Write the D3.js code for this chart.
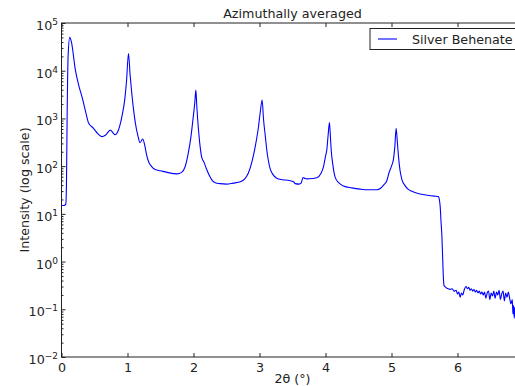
<!DOCTYPE html>
<html>
<head>
<meta charset="utf-8">
<script src="https://cdn.jsdelivr.net/npm/d3@7"></script>
<style>
  body { margin: 0; background: #fff; overflow: hidden; }
  svg { display: block; font-family: "DejaVu Sans", sans-serif; }
</style>
</head>
<body>
<svg id="chart" width="515" height="386"></svg>
<script>
// data
var twoTheta = [0.00, 0.04, 0.065, 0.075, 0.085, 0.10, 0.125, 0.15, 0.21, 0.26, 0.31, 0.36, 0.41, 0.485, 0.55, 0.61,
  0.67, 0.74, 0.78, 0.81, 0.86, 0.915, 0.96, 0.985, 1.015, 1.04, 1.06, 1.09, 1.12, 1.16, 1.19, 1.23, 1.26, 1.29,
  1.32, 1.36, 1.42, 1.50, 1.60, 1.75, 1.82, 1.87, 1.92, 1.96, 1.99, 2.02, 2.036, 2.05, 2.076, 2.10, 2.126, 2.16,
  2.20, 2.25, 2.28, 2.33, 2.40, 2.50, 2.60, 2.71, 2.78, 2.83, 2.89, 2.935, 2.98, 3.01, 3.04, 3.06, 3.09, 3.11,
  3.16, 3.20, 3.26, 3.35, 3.45, 3.515, 3.54, 3.60, 3.63, 3.66, 3.69, 3.72, 3.80, 3.87, 3.93, 3.97, 4.00, 4.02,
  4.04, 4.06, 4.075, 4.086, 4.11, 4.147, 4.20, 4.27, 4.40, 4.526, 4.65, 4.78, 4.83, 4.88, 4.93, 4.96, 5.00, 5.03,
  5.05, 5.07, 5.09, 5.106, 5.13, 5.16, 5.20, 5.25, 5.30, 5.435, 5.55, 5.65, 5.71, 5.725, 5.738, 5.75, 5.764,
  5.775, 5.785, 5.795, 5.82, 5.84, 5.86, 5.89, 5.92, 5.95, 5.98, 6.00, 6.02, 6.04, 6.06, 6.08, 6.10, 6.13, 6.15,
  6.17, 6.19, 6.21, 6.23, 6.25, 6.27, 6.29, 6.31, 6.33, 6.35, 6.37, 6.39, 6.41, 6.43, 6.45, 6.47, 6.49, 6.51,
  6.53, 6.55, 6.57, 6.59, 6.61, 6.63, 6.65, 6.67, 6.69, 6.71, 6.73, 6.75, 6.77, 6.79, 6.81, 6.83, 6.84, 6.85,
  6.86, 6.87, 6.89, 6.92, 6.95, 7.00]

var intensity = [15, 15, 16, 40, 1000, 20000, 50000, 40000, 10400, 5000, 2860, 1500, 800, 620, 480, 416,
  450, 570, 500, 455, 560, 1090, 2600, 6000, 23000, 8000, 4000, 1600, 790, 420, 310, 370, 280, 170,
  124, 100, 85, 80, 74, 69, 74, 95, 186, 400, 900, 2200, 3950, 1800, 574, 260, 150, 120,
  85, 60, 51, 45, 43, 42, 44, 47, 55, 71, 130, 256, 600, 1300, 2440, 1000, 400, 220,
  90, 68, 56, 52, 50, 47, 43, 42, 44, 58, 55, 54, 55, 57, 70, 98, 160, 220,
  450, 817, 400, 220, 110, 58, 45, 38.5, 35, 33, 32, 32, 34, 40, 50, 71, 100, 140,
  250, 624, 300, 158, 80, 51, 40, 33, 30, 26, 24.5, 23.5, 23, 20, 14, 7, 3.3,
  1.2, 0.5, 0.32, 0.29, 0.275, 0.27, 0.26, 0.27, 0.24, 0.25, 0.21, 0.23, 0.18, 0.22, 0.20, 0.25, 0.30, 0.27,
  0.29, 0.25, 0.27, 0.24, 0.26, 0.23, 0.25, 0.22, 0.24, 0.21, 0.23, 0.20, 0.23, 0.17, 0.22, 0.24, 0.16, 0.22,
  0.19, 0.24, 0.17, 0.23, 0.20, 0.25, 0.16, 0.21, 0.24, 0.15, 0.22, 0.18, 0.23, 0.17, 0.13, 0.16, 0.08, 0.12,
  0.065, 0.11, 0.07, 0.10, 0.08, 0.09]

var xTicks = [0, 1, 2, 3, 4, 5, 6, 7]
var xLabelled = [0, 1, 2, 3, 4, 5, 6]   // 7 falls outside the window
var yExponents = [-2, -1, 0, 1, 2, 3, 4, 5]
var seriesName = "Silver Behenate"

var margin = { top: 23, left: 61.5 },
  plotW = 462,
  plotH = 334,
  ink = "#222"

var svg = d3.select("#chart")

var x = d3.scaleLinear().domain([0, 7]).range([0, plotW])
var y = d3.scaleLog().domain([1e-2, 1e5]).range([plotH, 0])

var g = svg.append("g")
  .attr("transform", "translate(" + margin.left + "," + margin.top + ")")

g.append("clipPath").attr("id", "clip")
  .append("rect").attr("width", plotW).attr("height", plotH)

// the curve
var line = d3.line()
  .x(function (d, i) { return x(twoTheta[i]) })
  .y(function (d) { return y(d) })
  .curve(d3.curveMonotoneX)

g.append("path")
  .datum(intensity)
  .attr("clip-path", "url(#clip)")
  .attr("d", line)
  .attr("fill", "none")
  .attr("stroke", "#0000ff")
  .attr("stroke-width", 1.1)
  .attr("stroke-linejoin", "round")

// minor log ticks
var minor = []
yExponents.slice(0, -1).forEach(function (e) {
  for (var k = 2; k < 10; k++) minor.push(k * Math.pow(10, e))
})

function styleAxis(sel) {
  sel.select(".domain").remove()
  sel.selectAll("line").attr("stroke", ink)
  sel.selectAll("text").attr("fill", ink)
    .style("font-family", "DejaVu Sans, sans-serif").style("font-size", "12.7px")
}

g.append("g")
  .attr("transform", "translate(0," + plotH + ")")
  .call(d3.axisBottom(x).tickValues(xLabelled).tickSize(-4).tickPadding(5.5).tickFormat(d3.format("d")))
  .call(styleAxis)
g.append("g")
  .attr("transform", "translate(0," + plotH + ")")
  .call(d3.axisBottom(x).tickValues([7]).tickSize(-4).tickFormat(""))
  .call(styleAxis)

g.append("g")
  .call(d3.axisTop(x).tickValues(xTicks).tickSize(-4).tickFormat(""))
  .call(styleAxis)

var yMajor = yExponents.map(function (e) { return Math.pow(10, e) })

g.append("g")
  .call(d3.axisLeft(y).tickValues(yMajor).tickSize(-4).tickFormat(""))
  .call(styleAxis)
g.append("g")
  .call(d3.axisLeft(y).tickValues(minor).tickSize(-2).tickFormat(""))
  .call(styleAxis)
g.append("g")
  .attr("transform", "translate(" + plotW + ",0)")
  .call(d3.axisRight(y).tickValues(yMajor).tickSize(-4).tickFormat(""))
  .call(styleAxis)
g.append("g")
  .attr("transform", "translate(" + plotW + ",0)")
  .call(d3.axisRight(y).tickValues(minor).tickSize(-2).tickFormat(""))
  .call(styleAxis)

// y labels as 10 with superscript exponent
var ylab = g.append("g").selectAll("text")
  .data(yExponents)
  .enter()
  .append("text")
  .attr("x", -3.5)
  .attr("y", function (d) { return y(Math.pow(10, d)) + 7 })
  .attr("text-anchor", "end")
  .attr("fill", ink)
  .style("font-size", "12.7px")
ylab.append("tspan").text("10")
ylab.append("tspan")
  .attr("dy", -5)
  .style("font-size", "9px")
  .text(function (d) { return d < 0 ? "\u2212" + (-d) : d })

// frame
g.append("rect")
  .attr("width", plotW).attr("height", plotH)
  .attr("fill", "none").attr("stroke", ink).attr("stroke-width", 1)

// titles
svg.append("text")
  .attr("x", margin.left + plotW / 2).attr("y", 18)
  .attr("text-anchor", "middle").attr("fill", ink)
  .style("font-size", "12.7px")
  .text("Azimuthally averaged")

svg.append("text")
  .attr("x", margin.left + plotW / 2).attr("y", 382.5)
  .attr("text-anchor", "middle").attr("fill", ink)
  .style("font-size", "12.7px")
  .text("2\u03b8 (\u00b0)")

svg.append("text")
  .attr("transform", "translate(28.5," + (margin.top + plotH / 2) + ") rotate(-90)")
  .attr("text-anchor", "middle").attr("fill", ink)
  .style("font-size", "12.7px")
  .text("Intensity (log scale)")

// legend
var legend = svg.append("g").attr("transform", "translate(370,28.5)")
legend.append("rect")
  .attr("width", 152).attr("height", 21)
  .attr("fill", "#fff").attr("stroke", ink)
legend.append("line")
  .attr("x1", 8).attr("x2", 27).attr("y1", 10.5).attr("y2", 10.5)
  .attr("stroke", "#0000ff").attr("stroke-width", 1.1)
legend.append("text")
  .attr("x", 42).attr("y", 15)
  .attr("fill", ink)
  .style("font-size", "12.7px")
  .text(seriesName)
</script>
</body>
</html>
